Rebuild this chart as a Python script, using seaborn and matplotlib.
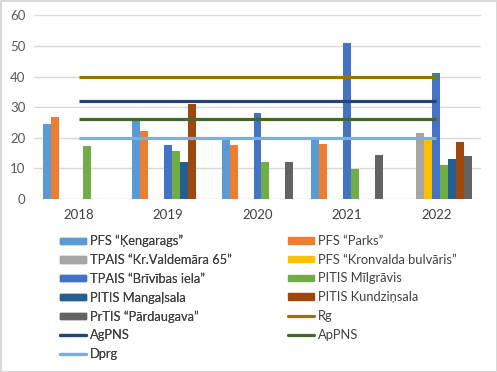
import numpy as np
import pandas as pd
import matplotlib
matplotlib.use("Agg")
import matplotlib.pyplot as plt
from matplotlib.patches import Patch
from matplotlib.lines import Line2D
import seaborn as sns

sns.set_theme(style="white")
plt.rcParams['font.family'] = ['Lato', 'DejaVu Sans']

years = ["2018", "2019", "2020", "2021", "2022"]

# bar series (nan = no bar)
kengarags = [24.6, 25.7, 19.8, 19.3, np.nan]
parks = [26.7, 22.2, 17.5, 18.0, np.nan]
valdemara = [np.nan, np.nan, np.nan, np.nan, 21.6]
kronvalda = [np.nan, np.nan, np.nan, np.nan, 19.6]
brivibas = [np.nan, 17.5, 28.2, 50.8, 41.3]
milgravis = [17.3, 15.8, 12.0, 9.8, 11.0]
mangalsala = [np.nan, 12.1, np.nan, np.nan, 13.0]
kundzinsala = [np.nan, 31.1, np.nan, np.nan, 18.6]
pardaugava = [np.nan, np.nan, 12.2, 14.5, 13.9]

# limit lines
rg = [40, 40, 40, 40, 40]
agpns = [32, 32, 32, 32, 32]
appns = [26, 26, 26, 26, 26]
dprg = [20, 20, 20, 20, 20]

bar_names = ["PFS “Ķengarags”", "PFS “Parks”", "TPAIS “Kr.Valdemāra 65”",
             "PFS “Kronvalda bulvāris”", "TPAIS “Brīvības iela”", "PITIS Mīlgrāvis",
             "PITIS Mangaļsala", "PITIS Kundziņsala", "PrTIS “Pārdaugava”"]
bar_values = [kengarags, parks, valdemara, kronvalda, brivibas, milgravis,
              mangalsala, kundzinsala, pardaugava]
bar_colors = ["#5B9BD5", "#ED7D31", "#A5A5A5", "#FFC000", "#4472C4", "#70AD47",
              "#255E91", "#9E480E", "#636363"]

line_names = ["Rg", "AgPNS", "ApPNS", "Dprg"]
line_values = [rg, agpns, appns, dprg]
line_colors = ["#997300", "#264478", "#43682B", "#7CAFDD"]

rows = []
for name, vals in zip(bar_names, bar_values):
    for y, v in zip(years, vals):
        rows.append({"year": y, "series": name, "value": v})
df = pd.DataFrame(rows).dropna()

text_col = "#595959"
fig = plt.figure(figsize=(4.97, 3.72), dpi=100)
fig.patch.set_edgecolor("#D9D9D9")
fig.patch.set_linewidth(2)
ax = fig.add_axes([34 / 497, 1 - 199 / 372, 447 / 497, 183.7 / 372])

sns.barplot(data=df, x="year", y="value", hue="series", order=years,
            hue_order=bar_names, palette=dict(zip(bar_names, bar_colors)),
            saturation=1, width=0.8, errorbar=None, linewidth=0, legend=False, ax=ax)

xs = np.arange(len(years))
for name, vals, c in zip(line_names, line_values, line_colors):
    ax.plot(xs, vals, color=c, lw=2.3, solid_capstyle="butt")

ax.set_xlim(-0.5, len(years) - 0.5)
ax.set_ylim(0, 60)
ax.set_yticks(range(0, 61, 10))
ax.grid(axis="y", color="#D9D9D9", lw=1)
ax.set_axisbelow(True)
for s in ax.spines.values():
    s.set_visible(False)
ax.set_xlabel("")
ax.set_ylabel("")
ax.tick_params(axis="both", length=0, labelsize=9.5, labelcolor=text_col)
ax.tick_params(axis="x", pad=7, labelcolor="#404040")
ax.tick_params(axis="y", pad=6)

handles = [Patch(color=c, label=n) for n, c in zip(bar_names, bar_colors)]
handles += [Line2D([0], [0], color=c, lw=2.3, label=n, solid_capstyle="round")
            for n, c in zip(line_names, line_colors)]
left = handles[0::2]
right = handles[1::2]
kw = dict(frameon=False, fontsize=9.3, handlelength=2.0, handleheight=0.4,
          handletextpad=0.3, labelspacing=0.52, borderpad=0, borderaxespad=0,
          labelcolor="#404040", loc="upper left")
leg1 = fig.legend(handles=left, bbox_to_anchor=(60 / 497, 1 - 235 / 372), **kw)
fig.add_artist(leg1)
fig.legend(handles=right, bbox_to_anchor=(288 / 497, 1 - 235 / 372), **kw)

fig.savefig("out.png", dpi=100)
